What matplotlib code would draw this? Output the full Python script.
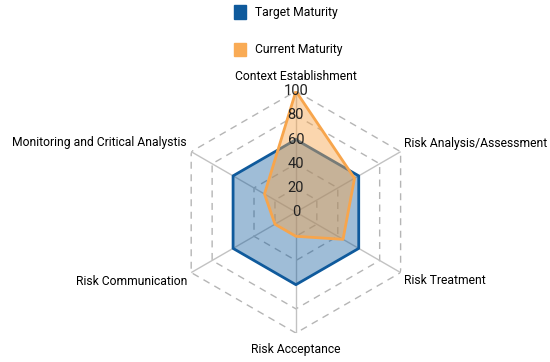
import matplotlib.pyplot as plt
import numpy as np
from matplotlib.patches import Patch

plt.rcParams['font.family'] = ['Roboto', 'DejaVu Sans']

categories = ['Context Establishment', 'Risk Analysis/Assessment', 'Risk Treatment',
              'Risk Acceptance', 'Risk Communication', 'Monitoring and Critical Analystis']
target = [60, 60, 60, 60, 60, 60]
current = [100, 56, 45, 20, 20, 30]
levels = [0, 20, 40, 60, 80, 100]

blue = '#0f5a9c'
orange = '#f7a54c'

n = len(categories)
ang = np.arange(n) * 2 * np.pi / n
ang_c = np.append(ang, ang[0])

fig = plt.figure(figsize=(5.5, 3.62), dpi=100)
ax = fig.add_axes([0.318, 0.08, 0.44, 0.668], projection='polar')
ax.set_theta_offset(np.pi / 2)
ax.set_theta_direction(-1)
ax.set_ylim(0, 100)
ax.grid(False)
ax.spines['polar'].set_visible(False)
ax.set_xticks([])
ax.set_yticks([])
ax.patch.set_alpha(0)

# grid: dashed hexagons and solid spokes
for lv in levels[1:]:
    ax.plot(ang_c, [lv] * (n + 1), color='#b5b5b5', lw=1, ls=(0, (5, 4)), zorder=1)
for a in ang:
    ax.plot([a, a], [0, 100], color='#c2c2c2', lw=1, zorder=1)

t = target + target[:1]
c = current + current[:1]
ax.fill(ang_c, t, color=blue, alpha=0.4, zorder=2, lw=0)
ax.plot(ang_c, t, color=blue, lw=2, zorder=3)
ax.fill(ang_c, c, color=orange, alpha=0.45, zorder=4, lw=0)
ax.plot(ang_c, c, color=orange, lw=2, zorder=5)

for lv in levels:
    ax.text(0, lv, str(lv), ha='center', va='center', fontsize=10.5, color='#222222', zorder=6)

fs = 8.7
ax.text(ang[0], 107, categories[0], ha='center', va='bottom', fontsize=fs, clip_on=False)
ax.text(ang[1], 103, categories[1], ha='left', va='bottom', fontsize=fs, clip_on=False)
ax.text(ang[2], 103, categories[2], ha='left', va='top', fontsize=fs, clip_on=False)
ax.text(ang[3], 108, categories[3], ha='center', va='top', fontsize=fs, clip_on=False)
ax.text(ang[4], 104, categories[4], ha='right', va='top', fontsize=fs, clip_on=False)
ax.text(ang[5], 104, categories[5], ha='right', va='bottom', fontsize=fs, clip_on=False)

handles = [Patch(color=blue, label='Target Maturity'),
           Patch(color='#f9ab55', label='Current Maturity')]
fig.legend(handles=handles, loc='upper left', bbox_to_anchor=(0.405, 1.015), frameon=False,
           fontsize=fs, handlelength=1.0, handleheight=1.3, labelspacing=1.95, handletextpad=0.8)

fig.savefig('out.png', dpi=100)
